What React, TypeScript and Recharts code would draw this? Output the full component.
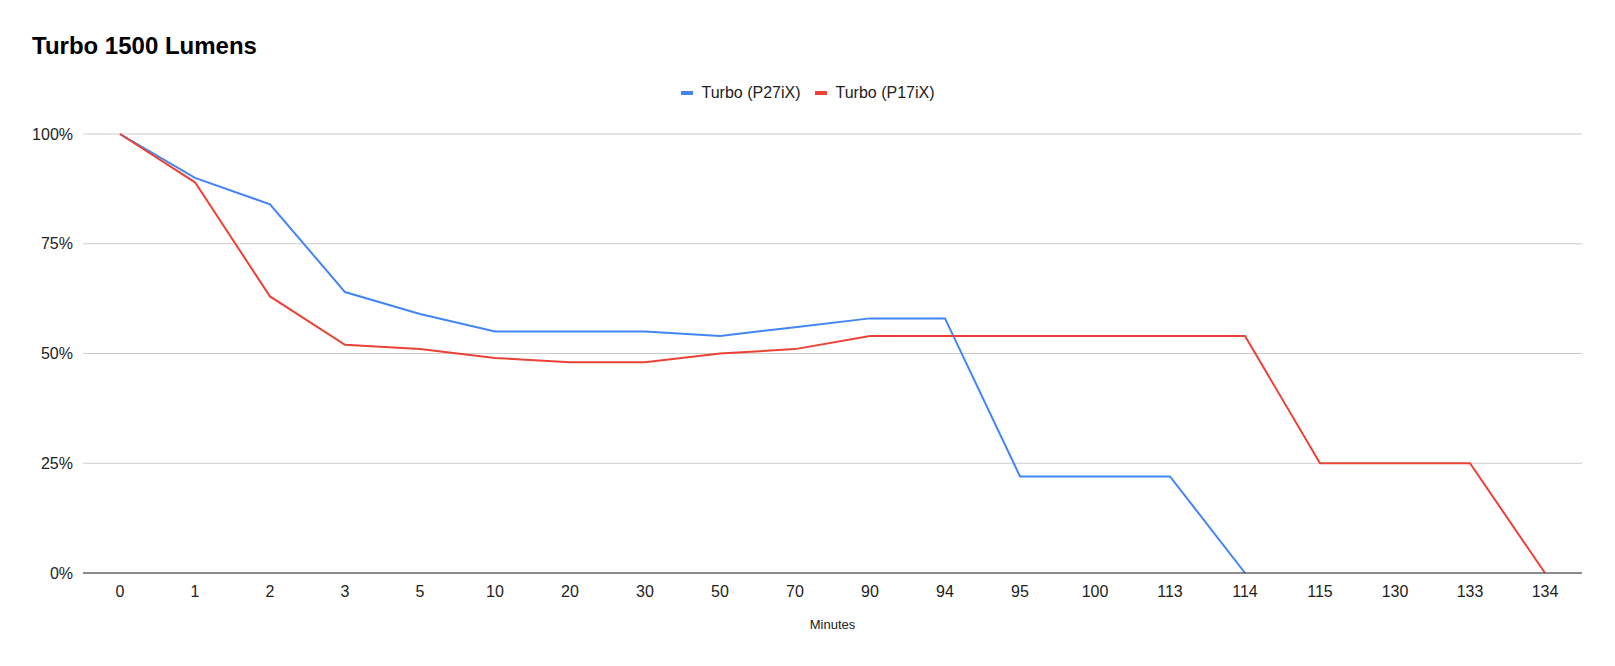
import { LineChart, Line, XAxis, YAxis, CartesianGrid } from 'recharts';

const minutes = ['0', '1', '2', '3', '5', '10', '20', '30', '50', '70', '90', '94', '95', '100', '113', '114', '115', '130', '133', '134'];
const p27ix = [100, 90, 84, 64, 59, 55, 55, 55, 54, 56, 58, 58, 22, 22, 22, 0, null, null, null, null];
const p17ix = [100, 89, 63, 52, 51, 49, 48, 48, 50, 51, 54, 54, 54, 54, 54, 54, 25, 25, 25, 0];
const yTicks = [0, 25, 50, 75, 100];

const BLUE = '#4285F4';
const RED = '#EA4335';
const FONT = 'Arial, "Liberation Sans", sans-serif';

const data = minutes.map((m, i) => ({ minute: m, p27: p27ix[i], p17: p17ix[i] }));

const legendItems = [
  { name: 'Turbo (P27iX)', color: BLUE },
  { name: 'Turbo (P17iX)', color: RED },
];

function ChartLegend() {
  return (
    <div
      style={{
        position: 'absolute',
        top: 84,
        left: 0,
        width: 1615,
        display: 'flex',
        justifyContent: 'center',
        fontFamily: FONT,
        fontSize: 16,
        lineHeight: '18px',
        color: '#222',
      }}
    >
      {legendItems.map((it) => (
        <div key={it.name} style={{ display: 'flex', alignItems: 'center', margin: '0 7px' }}>
          <span style={{ width: 12, height: 4, background: it.color, marginRight: 9, display: 'inline-block' }} />
          <span>{it.name}</span>
        </div>
      ))}
    </div>
  );
}

export default function App() {
  return (
    <div style={{ position: 'absolute', left: 0, top: 0, width: 1615, height: 666, background: '#fff' }}>
      <div
        style={{
          position: 'absolute',
          left: 32,
          top: 32,
          fontFamily: FONT,
          fontWeight: 'bold',
          fontSize: 24,
          color: '#000',
        }}
      >
        Turbo 1500 Lumens
      </div>
      <ChartLegend />
      <LineChart width={1615} height={666} data={data} margin={{ top: 134, right: 33, bottom: 33, left: 0 }}>
        <CartesianGrid vertical={false} stroke="#cccccc" />
        <XAxis
          dataKey="minute"
          height={60}
          padding={{ left: 37, right: 37 }}
          tickLine={false}
          tickSize={0}
          tickMargin={13}
          axisLine={{ stroke: '#333333' }}
          tick={{ fill: '#222', fontSize: 16, fontFamily: FONT }}
          interval={0}
          label={{ value: 'Minutes', position: 'insideBottom', offset: 4, fill: '#222', fontSize: 13, fontFamily: FONT }}
        />
        <YAxis
          width={83}
          domain={[0, 100]}
          ticks={yTicks}
          tickFormatter={(v: number) => `${v}%`}
          axisLine={false}
          tickLine={false}
          tickSize={0}
          tickMargin={10}
          tick={{ fill: '#222', fontSize: 16, fontFamily: FONT }}
        />
        <Line
          type="linear"
          dataKey="p27"
          name="Turbo (P27iX)"
          stroke={BLUE}
          strokeWidth={2}
          dot={false}
          activeDot={false}
          isAnimationActive={false}
        />
        <Line
          type="linear"
          dataKey="p17"
          name="Turbo (P17iX)"
          stroke={RED}
          strokeWidth={2}
          dot={false}
          activeDot={false}
          isAnimationActive={false}
        />
      </LineChart>
    </div>
  );
}
